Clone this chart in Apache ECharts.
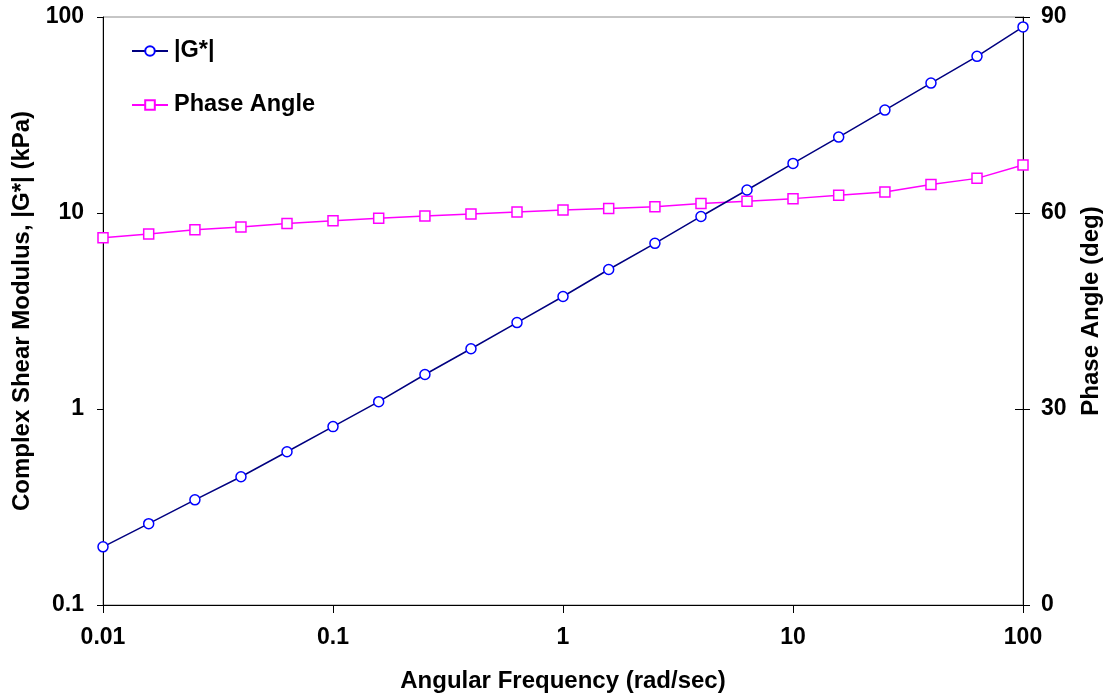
<!DOCTYPE html>
<html>
<head>
<meta charset="utf-8">
<script src="https://cdn.jsdelivr.net/npm/echarts@6/dist/echarts.min.js"></script>
<style>
  html, body { margin: 0; padding: 0; background: #fff; }
  #chart { width: 1109px; height: 700px; }
</style>
</head>
<body>
<div id="chart"></div>
<script>
// Angular frequency sweep (rad/sec), five points per decade
const frequency = [0.01, 0.0158, 0.0251, 0.0398, 0.0631,
                   0.1, 0.158, 0.251, 0.398, 0.631,
                   1, 1.58, 2.51, 3.98, 6.31,
                   10, 15.8, 25.1, 39.8, 63.1, 100];
// Complex shear modulus |G*| (kPa)
const modulus = [0.198, 0.26, 0.344, 0.451, 0.605,
                 0.813, 1.09, 1.5, 2.03, 2.76,
                 3.75, 5.15, 7.0, 9.6, 13.1,
                 17.9, 24.4, 33.5, 46, 63, 89];
// Phase angle (deg)
const phaseAngle = [56.2, 56.8, 57.45, 57.85, 58.4,
                    58.8, 59.2, 59.55, 59.85, 60.15,
                    60.45, 60.7, 60.95, 61.45, 61.8,
                    62.2, 62.7, 63.2, 64.35, 65.3, 67.35];
const xTicks = [0.01, 0.1, 1, 10, 100];
const leftTicks = [0.1, 1, 10, 100];
const rightTicks = [0, 30, 60, 90];

const FONT = '"Liberation Sans", Arial, sans-serif';
const labelStyle = { color: '#000', fontFamily: FONT, fontWeight: 'bold', fontSize: 23 };
const nameStyle = { color: '#000', fontFamily: FONT, fontWeight: 'bold', fontSize: 24 };

function fmt(v) {
  return String(+v.toPrecision(6));
}

const chart = echarts.init(document.getElementById('chart'), null, { renderer: 'canvas' });
chart.setOption({
  animation: false,
  backgroundColor: '#fff',
  grid: {
    left: 103, right: 86, top: 17, bottom: 95,
    outerBoundsMode: 'none',
    containLabel: false,
    show: true, borderColor: '#8c8c8c', borderWidth: 1, backgroundColor: 'transparent'
  },
  legend: {
    orient: 'vertical',
    left: 126, top: 34,
    itemWidth: 36, itemHeight: 12, itemGap: 30,
    textStyle: { color: '#000', fontFamily: FONT, fontWeight: 'bold', fontSize: 23.5, padding: [0, 0, 0, 1] },
    data: ['|G*|', 'Phase Angle']
  },
  xAxis: {
    type: 'log', logBase: 10,
    min: xTicks[0], max: xTicks[xTicks.length - 1],
    name: 'Angular Frequency (rad/sec)',
    nameLocation: 'middle', nameGap: 64,
    nameTextStyle: nameStyle,
    axisLine: { show: true, lineStyle: { color: '#000', width: 1 } },
    axisTick: { show: true, inside: false, length: 8, lineStyle: { color: '#000' } },
    minorTick: { show: false },
    splitLine: { show: false },
    axisLabel: Object.assign({ margin: 21, formatter: fmt }, labelStyle)
  },
  yAxis: [
    {
      type: 'log', logBase: 10,
      min: leftTicks[0], max: leftTicks[leftTicks.length - 1],
      position: 'left',
      name: 'Complex Shear Modulus, |G*| (kPa)',
      nameLocation: 'middle', nameGap: 66,
      nameTextStyle: nameStyle,
      axisLine: { show: true, lineStyle: { color: '#000', width: 1 } },
      axisTick: { show: true, inside: false, length: 6, lineStyle: { color: '#000' } },
      splitLine: { show: false },
      axisLabel: Object.assign({ margin: 19, formatter: fmt }, labelStyle)
    },
    {
      type: 'value',
      min: rightTicks[0], max: rightTicks[rightTicks.length - 1], interval: 30,
      position: 'right',
      name: 'Phase Angle (deg)',
      nameLocation: 'middle', nameGap: 56,
      nameTextStyle: nameStyle,
      axisLine: { show: true, lineStyle: { color: '#000', width: 1 } },
      axisTick: { show: true, inside: false, length: 7, lineStyle: { color: '#000' } },
      splitLine: { show: false },
      axisLabel: Object.assign({ margin: 18 }, labelStyle)
    },
    {
      // inner half of the right axis cross ticks
      type: 'value',
      min: rightTicks[0], max: rightTicks[rightTicks.length - 1], interval: 30,
      position: 'right',
      axisLine: { show: false },
      axisTick: { show: true, inside: true, length: 8, lineStyle: { color: '#000' } },
      splitLine: { show: false },
      axisLabel: { show: false }
    }
  ],
  series: [
    {
      name: '|G*|',
      type: 'line',
      yAxisIndex: 0,
      data: frequency.map((f, i) => [f, modulus[i]]),
      symbol: 'circle', symbolSize: 10,
      lineStyle: { color: '#000080', width: 1.5 },
      itemStyle: { color: '#fff', borderColor: '#0000ff', borderWidth: 1.5 },
      z: 3
    },
    {
      name: 'Phase Angle',
      type: 'line',
      yAxisIndex: 1,
      data: frequency.map((f, i) => [f, phaseAngle[i]]),
      symbol: 'rect', symbolSize: 10,
      lineStyle: { color: '#ff00ff', width: 1.5 },
      itemStyle: { color: '#fff', borderColor: '#ff00ff', borderWidth: 1.5 },
      z: 2
    }
  ]
});
</script>
</body>
</html>
